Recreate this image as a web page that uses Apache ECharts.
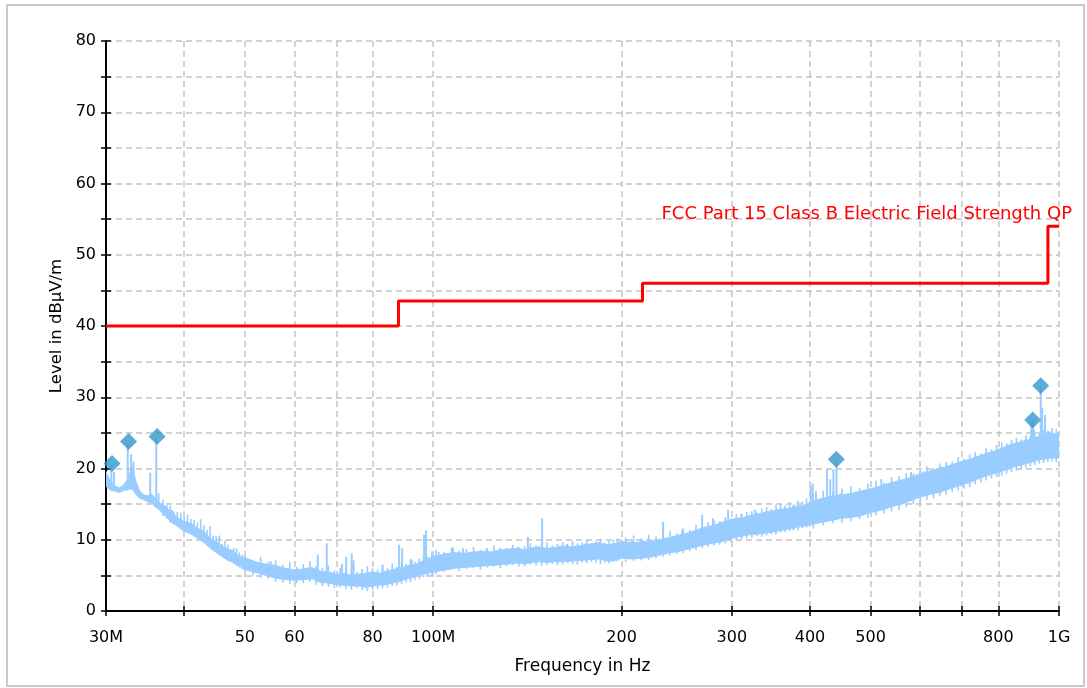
<!DOCTYPE html>
<html><head><meta charset="utf-8">
<script src="https://cdn.jsdelivr.net/npm/echarts@6.0.0/dist/echarts.min.js"></script>
<style>html,body{margin:0;padding:0;background:#fff}#c{width:1087px;height:688px}</style>
</head><body><div id="c"></div>
<script>
// ---- axis ticks / labels ----
const xTickValues = [30,40,50,60,70,80,100,200,300,400,500,600,700,800,1000];
const xLabelValues = [30,50,60,80,100,200,300,400,500,800,1000];
const xLabelText  = ['30M','50','60','80','100M','200','300','400','500','800','1G'];
const yMin = 0, yMax = 80, yTickStep = 5, yLabelStep = 10;

// ---- limit line (MHz, dBµV/m) ----
const limitName  = 'FCC Part 15 Class B Electric Field Strength QP';
const limitFreq  = [30, 88, 216, 960, 1000];
const limitLevel = [40, 43.5, 46, 54, 54];

// ---- measured spectrum: noise band core envelope (MHz, dBµV/m) ----
const bandFreq = [30,30.5,31,31.5,32,32.5,33,33.5,34,34.5,35,35.5,36,36.5,37,37.5,38,38.5,39,39.5,
  40,41,42,43,44,45,46,47,48,49,50,52,54,56,58,60,62,64,66,68,70,72,74,76,78,80,82,84,86,88,
  90,92,94,96,98,100,104,108,112,116,120,124,128,132,136,140,144,148,152,156,160,166,172,178,184,190,196,
  200,208,216,224,232,240,248,256,264,272,280,288,296,304,312,320,330,340,350,360,370,380,390,
  400,416,432,448,464,480,496,512,528,544,560,576,592,608,624,640,656,672,688,704,720,736,752,768,784,
  800,816,832,848,864,880,896,912,928,944,960,976,1000];
const bandHigh = [19.6,18.2,17.6,17.3,17.7,18.6,20.4,18.2,16.8,16.3,16.2,16.4,15.8,15.2,14.9,14.6,13.9,13.6,13.2,12.8,
  12.6,12.3,11.6,11.2,10.2,9.8,9.1,8.7,8.4,7.7,7.5,6.9,6.6,6.4,6.0,5.8,5.9,6.1,5.6,5.5,5.2,5.3,5.0,5.2,5.3,5.5,5.3,5.6,5.8,6.0,
  6.2,6.5,6.6,7.0,7.3,7.7,8.0,8.2,8.1,8.3,8.4,8.3,8.6,8.7,8.8,8.6,8.9,9.0,8.8,8.9,9.1,9.0,9.2,9.4,9.6,9.3,9.5,
  9.8,9.6,9.7,9.9,10.1,10.4,10.7,11.0,11.4,11.8,12.0,12.4,12.7,13.0,13.1,13.4,13.6,13.9,14.1,14.3,14.4,14.7,14.8,
  15.2,15.8,16.1,16.3,16.5,16.8,17.1,17.4,17.8,18.1,18.4,18.7,19.1,19.4,19.7,19.9,20.2,20.5,20.8,21.1,21.3,21.6,21.9,22.2,22.4,
  22.7,23.0,23.3,23.5,23.7,23.9,24.1,24.3,24.5,24.6,24.8,24.9,24.8];
const bandLow = [17.5,16.9,16.8,16.6,16.9,17.0,17.3,16.3,15.8,15.6,15.3,15.1,14.6,14.2,13.6,13.2,12.6,12.2,11.9,11.5,
  11.2,10.8,10.2,9.6,8.8,8.2,7.6,7.1,6.8,6.3,5.8,5.4,5.0,4.6,4.4,4.3,4.4,4.5,4.0,3.9,3.7,3.6,3.5,3.5,3.3,3.5,3.6,3.7,3.9,4.1,
  4.4,4.6,4.9,5.1,5.3,5.5,5.7,6.0,6.1,6.2,6.3,6.4,6.5,6.6,6.7,6.6,6.8,6.9,6.8,6.9,6.9,7.0,7.1,7.2,7.3,7.0,7.1,
  7.4,7.3,7.4,7.6,7.9,8.2,8.4,8.7,9.0,9.3,9.5,9.7,10.0,10.3,10.5,10.7,10.8,10.9,11.1,11.3,11.5,11.7,11.9,
  12.1,12.4,12.7,13.0,13.1,13.3,13.7,14.0,14.3,14.7,15.0,15.4,15.8,16.1,16.4,16.6,16.9,17.2,17.5,17.8,18.0,18.4,18.7,19.0,19.2,
  19.5,19.7,20.0,20.2,20.4,20.6,20.8,21.0,21.2,21.3,21.4,21.5,21.4];

// ---- sweep texture: per-point min/max of the trace (MHz, dBµV/m) ----
const noiseFreq = [37,37.5,38,38.5,39,39.5,40,40.5,41,41.5,42,42.5,43,43.5,44,44.5,45,45.5,46,46.5,47,47.5,48,48.5,49,49.5,50,
  51.5,53,54.5,56,57.5,59,60.5,62,63.5,65,66.5,68,69.5,71,72.5,74,75.5,77,78.5,80,81.5,83,84.5,86,87.5,89,90.5,92,93.5,95,96.5,98,99.5,
  101,104,107,110,113,116,119,122,125,128,131,134,137,140,143,146,149,152,155,158,161,164,167,170,173,176,179,182,185,188,191,194,197,
  203,209,215,221,227,233,239,245,251,257,263,269,275,281,287,293,299,305,311,317,323,329,335,341,347,353,359,365,371,377,383,389,395,
  405,420,435,450,465,480,495,510,525,540,555,570,585,600,615,630,645,660,675,690,705,720,735,750,765,780,795,810,825,840,855,870,885,900,915,930,945,960,975,990];
const noiseHigh = [15.6,14.9,14.8,14.0,13.9,13.8,13.3,13.5,12.9,12.8,12.4,12.9,12.1,11.4,11.9,10.6,10.5,10.6,9.4,9.9,9.3,8.6,8.9,8.8,8.2,7.9,7.8,
  7.2,7.6,6.9,7.1,6.5,6.9,6.2,6.6,7.0,6.3,6.1,6.4,5.7,6.0,5.6,6.2,5.5,5.9,6.3,6.0,5.8,6.4,6.0,6.7,6.2,6.9,6.6,7.3,6.9,7.4,7.8,7.6,8.4,
  8.6,8.3,8.9,8.5,8.7,9.0,8.6,8.8,9.2,8.9,8.8,9.3,9.0,9.1,9.5,9.2,9.4,9.6,9.2,9.4,9.7,9.3,9.8,9.5,9.6,9.9,9.5,9.8,10.1,9.6,9.8,10.0,10.2,
  10.3,10.6,10.2,10.7,10.5,11.0,11.2,10.9,11.6,11.4,12.1,11.8,12.5,12.7,12.6,13.2,13.0,13.6,13.5,13.9,14.0,13.8,14.4,14.6,14.3,14.9,15.1,14.8,15.3,15.0,15.5,15.4,15.8,
  16.4,16.9,16.7,17.2,17.5,17.3,17.9,18.3,18.0,18.8,18.9,19.4,19.3,19.8,20.3,20.1,20.7,20.9,21.0,21.6,21.4,22.0,22.3,22.1,22.9,22.7,23.3,23.6,23.5,24.0,24.3,24.1,24.7,24.6,25.1,24.9,25.4,25.3,25.7,25.5];
const noiseLow = [13.3,13.0,12.4,12.2,12.0,11.6,11.3,11.0,10.8,10.9,10.4,10.0,9.7,9.5,9.2,8.5,8.3,7.9,7.6,7.4,7.0,6.9,6.6,6.3,6.1,5.9,5.6,
  5.0,4.7,4.5,4.1,4.0,3.8,3.9,3.9,4.1,3.7,3.5,3.4,3.2,3.3,3.1,3.0,3.2,2.9,2.8,3.0,3.1,3.2,3.3,3.5,3.6,3.8,4.0,4.1,4.4,4.5,4.7,4.9,5.0,
  5.2,5.5,5.8,5.6,5.9,6.0,5.8,6.1,6.2,6.0,6.3,6.4,6.2,6.3,6.5,6.4,6.3,6.5,6.6,6.4,6.5,6.7,6.6,6.5,6.8,6.7,6.9,6.8,6.6,6.8,6.7,6.9,7.0,
  6.9,7.0,7.1,7.2,7.4,7.6,7.8,8.0,8.1,8.4,8.6,8.8,9.0,9.2,9.3,9.5,9.7,9.9,10.1,10.2,10.3,10.5,10.4,10.6,10.8,10.7,11.0,11.1,11.2,11.4,11.3,11.6,11.7,
  11.6,12.0,12.3,12.4,12.6,12.9,13.1,13.4,13.7,14.0,14.2,14.6,15.0,15.3,15.6,15.8,16.1,16.3,16.7,16.9,17.2,17.4,17.8,18.0,18.3,18.6,18.8,19.0,19.3,19.5,19.7,20.0,20.1,20.3,20.5,20.7,20.8,20.9,21.0,20.9];

// ---- narrow spikes above the band (MHz, base, top) ----
const spikeFreq = [30.6,30.9,32.5,32.9,33.2,35.3,36.1,36.4,38.2,41.5,47.5,55,65.4,67.6,71.5,72.6,74.1,74.6,83,88.2,89.2,92.4,96.7,97.4,
  102,107.6,111.6,121.7,131.1,136.7,141.7,149.3,161.2,163.5,175.4,186.6,207.7,216,233,250,269,280,296,311,327,376,
  401,404,409,426,431,436,441,447,520,580,607,648,699,823,864,903,908,912,935,940,950,965];
const spikeBase = [17,17,17,17,17,15.5,14.5,14.5,12.5,10.5,7,5,4.5,4.2,3.8,3.8,3.7,3.7,3.8,4.2,4.3,4.7,5.2,5.2,
  5.8,6.1,6.2,6.4,6.7,6.8,6.8,6.8,6.9,6.9,7.0,7.2,7.4,7.4,7.9,8.5,9.2,9.5,10.0,10.4,10.8,11.4,
  12.2,12.2,12.3,12.6,12.6,12.8,12.8,13.0,14.5,15.7,16.3,16.6,17.6,20.0,20.5,21,21,21,21.5,21.5,21.6,21.8];
const spikeTop = [20.5,19.5,23.6,22.0,21.0,19.4,24.3,16.5,14.2,12.0,8.5,7.0,7.9,9.5,6.6,7.6,8.1,7.1,6.5,9.3,8.8,7.2,10.7,11.3,
  8.3,8.9,8.8,8.8,8.8,9.0,10.4,13.0,9.2,9.4,9.5,9.3,9.9,10.0,12.5,11.4,13.5,13.0,14.2,13.7,14.2,14.8,
  17.6,17.9,16.8,19.9,18.5,19.9,21.0,16.5,18.5,19.5,19.6,20.3,21.0,22.6,23.6,26.5,26.8,25.5,31.6,28.5,27.5,25.2];

// ---- peak markers ----
const markerFreq  = [30.67, 32.6, 36.2, 440.7, 907.8, 934.8];
const markerLevel = [20.7, 23.8, 24.5, 21.3, 26.8, 31.6];

// ---- colours ----
const SPEC = '#99ccff', MARK = '#3399cc', LIMIT = '#ff0000', GRID = '#c4c4c4';
const FONT = 'DejaVu Sans';

const chart = echarts.init(document.getElementById('c'), null, {renderer:'canvas'});

function xLabelFmt(v){
  for (let i=0;i<xLabelValues.length;i++) if (Math.abs(xLabelValues[i]-v) < 1e-6*xLabelValues[i]+1e-6) return xLabelText[i];
  return '';
}
function vLine(stroke, width){
  return function(params, api){
    const a = api.coord([api.value(0), api.value(1)]);
    const b = api.coord([api.value(0), api.value(2)]);
    return {type:'line', shape:{x1:a[0], y1:a[1], x2:b[0], y2:b[1]}, style:{stroke:stroke, lineWidth:width}};
  };
}
const baseX = {type:'log', logBase:10, min:30, max:1000, gridIndex:0};
const option = {
  animation:false,
  backgroundColor:'#ffffff',
  textStyle:{fontFamily:FONT},
  grid:{left:106, right:28, top:41, bottom:77, containLabel:false},
  xAxis:[
    Object.assign({}, baseX, {
      position:'bottom',
      name:'Frequency in Hz', nameLocation:'middle', nameGap:47,
      nameTextStyle:{color:'#000', fontSize:17, fontFamily:FONT},
      axisLine:{show:true, lineStyle:{color:'#000', width:2}},
      axisTick:{show:true, length:5, customValues:xTickValues, lineStyle:{color:'#000', width:1.5}},
      axisLabel:{show:true, customValues:xLabelValues, formatter:xLabelFmt, color:'#000', fontSize:16, margin:19, fontFamily:FONT},
      splitLine:{show:true, lineStyle:{color:GRID, type:[6,4], width:1.5}},
      minorTick:{show:false}, minorSplitLine:{show:false}
    }),
    Object.assign({}, baseX, {
      position:'bottom',
      axisLine:{show:false},
      axisTick:{show:true, inside:true, length:5, customValues:xTickValues, lineStyle:{color:'#000', width:1.5}},
      axisLabel:{show:false},
      splitLine:{show:false}
    })
  ],
  yAxis:[
    {
      type:'value', min:yMin, max:yMax, interval:yTickStep, position:'left',
      name:'Level in dBµV/m', nameLocation:'middle', nameGap:40, nameRotate:90,
      nameTextStyle:{color:'#000', fontSize:16.5, fontFamily:FONT},
      axisLine:{show:true, lineStyle:{color:'#000', width:2}},
      axisTick:{show:true, length:5, lineStyle:{color:'#000', width:1.5}},
      axisLabel:{color:'#000', fontSize:16, margin:10, fontFamily:FONT,
        formatter:v => (v % yLabelStep === 0 ? String(v) : '')},
      splitLine:{show:true, lineStyle:{color:GRID, type:[6,4], width:1.5}}
    },
    {
      type:'value', min:yMin, max:yMax, interval:yTickStep, position:'left',
      axisLine:{show:false},
      axisTick:{show:true, inside:true, length:5, lineStyle:{color:'#000', width:1.5}},
      axisLabel:{show:false}, splitLine:{show:false}
    }
  ],
  graphic:[
    {type:'rect', z:-10, shape:{x:7, y:5, width:1077, height:681},
     style:{fill:'none', stroke:'#c8c8c8', lineWidth:2}},
    {type:'text', z:100, x:1072, y:214,
     style:{text:limitName, align:'right', verticalAlign:'middle', fill:LIMIT, fontSize:18, fontFamily:FONT}}
  ],
  series:[
    {
      type:'custom', name:'band', xAxisIndex:0, yAxisIndex:0, clip:true, z:2,
      data:[[bandFreq[0], bandLow[0]]],
      renderItem:function(params, api){
        const pts = [];
        for (let i=0;i<bandFreq.length;i++) pts.push(api.coord([bandFreq[i], bandHigh[i]]));
        for (let i=bandFreq.length-1;i>=0;i--) pts.push(api.coord([bandFreq[i], bandLow[i]]));
        return {type:'polygon', shape:{points:pts}, style:{fill:SPEC, stroke:SPEC, lineWidth:0.8}};
      }
    },
    {
      type:'custom', name:'texture', xAxisIndex:0, yAxisIndex:0, clip:true, z:3,
      encode:{x:0, y:[1,2]},
      data:noiseFreq.map((f,i)=>[f, noiseLow[i], noiseHigh[i]]),
      renderItem:vLine(SPEC, 1.6)
    },
    {
      type:'custom', name:'spikes', xAxisIndex:0, yAxisIndex:0, clip:true, z:3,
      encode:{x:0, y:[1,2]},
      data:spikeFreq.map((f,i)=>[f, spikeBase[i], spikeTop[i]]),
      renderItem:vLine(SPEC, 2)
    },
    {
      type:'line', name:limitName, xAxisIndex:0, yAxisIndex:0, step:'end', z:5,
      showSymbol:false, symbol:'none',
      lineStyle:{color:LIMIT, width:3},
      data:limitFreq.map((f,i)=>[f, limitLevel[i]])
    },
    {
      type:'scatter', name:'peaks', xAxisIndex:0, yAxisIndex:0, z:6,
      symbol:'diamond', symbolSize:[17,17],
      itemStyle:{color:MARK},
      data:markerFreq.map((f,i)=>[f, markerLevel[i]])
    }
  ]
};
chart.setOption(option);
</script>
</body></html>
